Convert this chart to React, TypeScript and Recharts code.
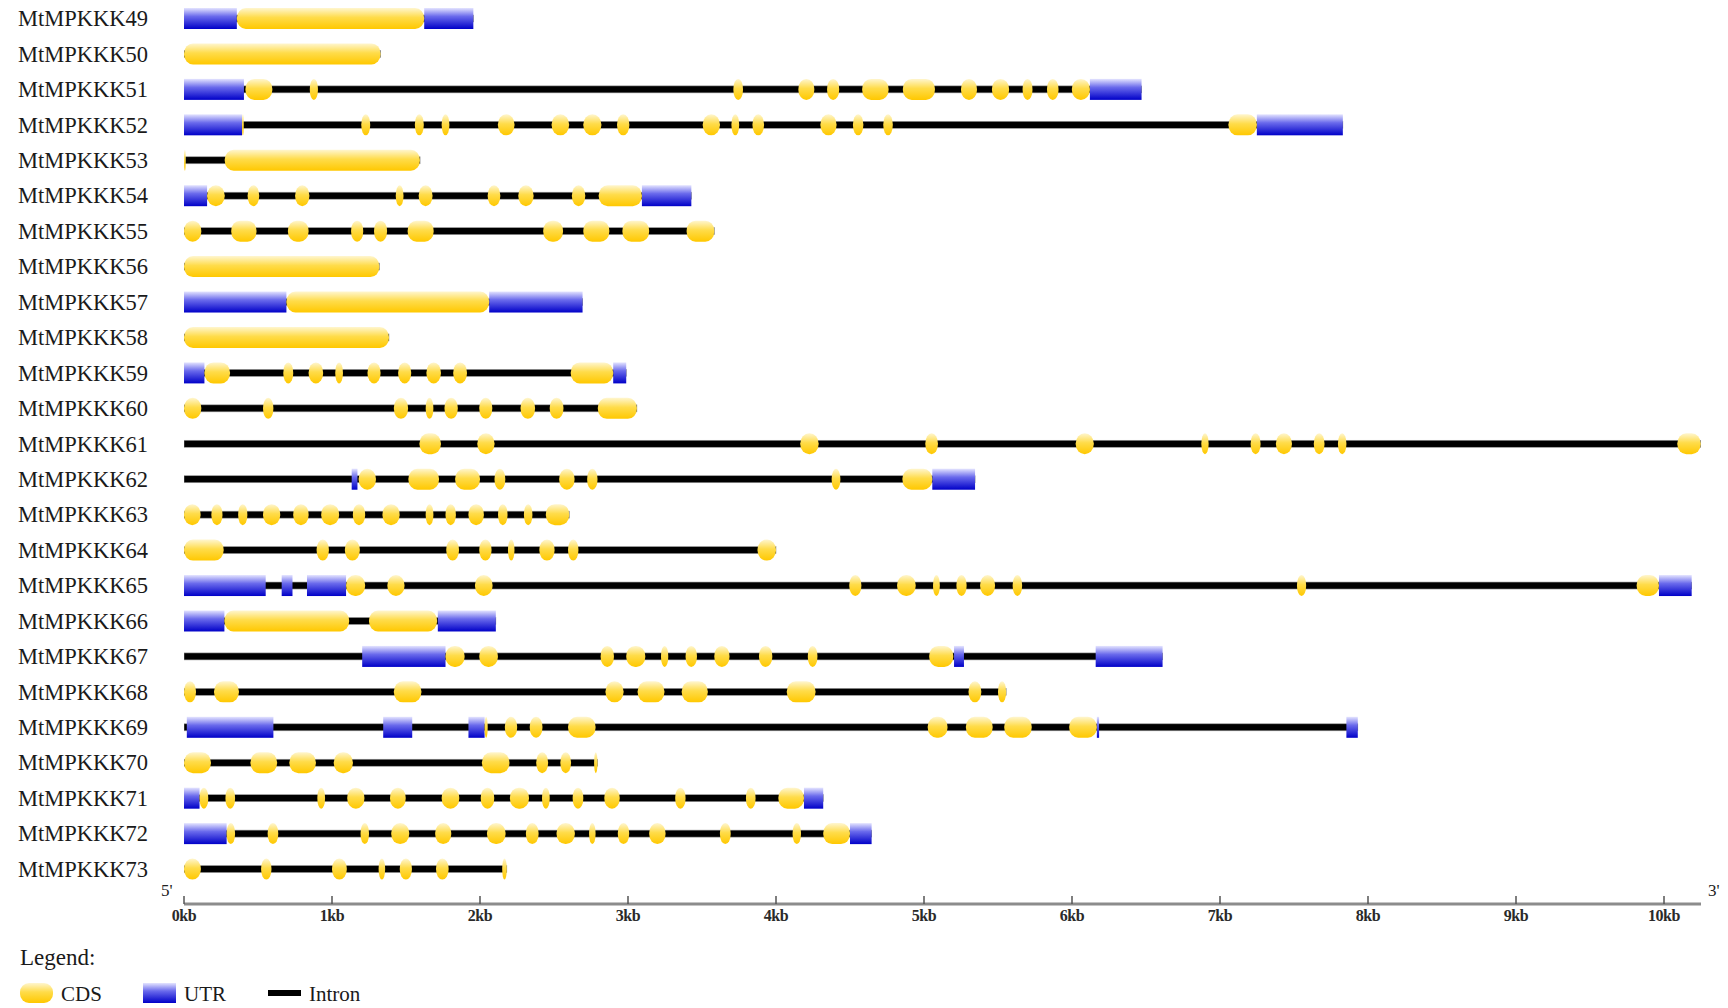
import React from 'react';
import { BarChart, Bar, XAxis, YAxis, Legend, Customized } from 'recharts';

const SERIF = '"Liberation Serif", "DejaVu Serif", serif';

// gene names, top to bottom
const genes = [
  'MtMPKKK49', 'MtMPKKK50', 'MtMPKKK51', 'MtMPKKK52', 'MtMPKKK53', 'MtMPKKK54', 'MtMPKKK55',
  'MtMPKKK56', 'MtMPKKK57', 'MtMPKKK58', 'MtMPKKK59', 'MtMPKKK60', 'MtMPKKK61', 'MtMPKKK62',
  'MtMPKKK63', 'MtMPKKK64', 'MtMPKKK65', 'MtMPKKK66', 'MtMPKKK67', 'MtMPKKK68', 'MtMPKKK69',
  'MtMPKKK70', 'MtMPKKK71', 'MtMPKKK72', 'MtMPKKK73',
];

// full gene length in kb (intron line runs from 0 to here)
const geneLength = [
  1.955, 1.328, 6.47, 7.83, 1.595, 3.428, 3.583, 1.32, 2.693, 1.385, 2.988, 3.06, 10.248,
  5.345, 2.603, 4.0, 10.187, 2.107, 6.612, 5.555, 7.931, 2.794, 4.319, 4.646, 2.181,
];

// UTR regions [start, end] in kb, per gene
const utrRegions: number[][][] = [
  [[0, 0.357], [1.623, 1.955]],
  [],
  [[0, 0.405], [6.121, 6.47]],
  [[0, 0.392], [7.249, 7.83]],
  [],
  [[0, 0.156], [3.094, 3.428]],
  [],
  [],
  [[0, 0.692], [2.062, 2.693]],
  [],
  [[0, 0.138], [2.9, 2.988]],
  [],
  [],
  [[1.133, 1.172], [5.056, 5.345]],
  [],
  [],
  [[0, 0.552], [0.66, 0.733], [0.831, 1.095], [9.966, 10.187]],
  [[0, 0.273], [1.715, 2.107]],
  [[1.204, 1.767], [5.203, 5.27], [6.16, 6.612]],
  [],
  [[0.019, 0.604], [1.346, 1.542], [1.922, 2.031], [6.168, 6.183], [7.854, 7.931]],
  [],
  [[0, 0.105], [4.189, 4.319]],
  [[0, 0.288], [4.5, 4.646]],
  [],
];

// CDS exons [start, end] in kb, per gene
const cdsExons: number[][][] = [
  [[0.357, 1.623]],
  [[0, 1.328]],
  [[0.415, 0.597], [0.85, 0.905], [3.712, 3.777], [4.151, 4.259], [4.345, 4.427], [4.582, 4.761],
    [4.857, 5.074], [5.25, 5.358], [5.459, 5.575], [5.666, 5.733], [5.831, 5.909], [5.999, 6.121]],
  [[0.392, 0.404], [1.198, 1.258], [1.56, 1.62], [1.741, 1.793], [2.121, 2.233], [2.484, 2.602],
    [2.698, 2.82], [2.926, 3.009], [3.505, 3.621], [3.699, 3.751], [3.841, 3.919], [4.3, 4.409],
    [4.52, 4.59], [4.725, 4.789], [7.057, 7.249]],
  [[0, 0.012], [0.275, 1.594]],
  [[0.156, 0.275], [0.43, 0.508], [0.751, 0.847], [1.431, 1.483], [1.586, 1.679], [2.052, 2.137],
    [2.259, 2.362], [2.621, 2.711], [2.802, 3.094]],
  [[0, 0.117], [0.319, 0.49], [0.702, 0.842], [1.129, 1.211], [1.284, 1.372], [1.511, 1.687],
    [2.427, 2.561], [2.698, 2.874], [2.962, 3.143], [3.396, 3.583]],
  [[0, 1.32]],
  [[0.692, 2.062]],
  [[0, 1.385]],
  [[0.138, 0.311], [0.671, 0.738], [0.842, 0.94], [1.022, 1.074], [1.24, 1.328], [1.447, 1.535],
    [1.638, 1.736], [1.819, 1.912], [2.613, 2.9]],
  [[0, 0.117], [0.534, 0.604], [1.418, 1.514], [1.633, 1.685], [1.76, 1.85], [1.995, 2.083],
    [2.274, 2.372], [2.471, 2.564], [2.796, 3.06]],
  [[1.591, 1.736], [1.982, 2.098], [4.164, 4.288], [5.009, 5.094], [6.025, 6.147], [6.874, 6.923],
    [7.207, 7.274], [7.378, 7.486], [7.634, 7.706], [7.797, 7.854], [10.09, 10.248]],
  [[1.18, 1.297], [1.516, 1.723], [1.832, 2.0], [2.098, 2.171], [2.535, 2.639], [2.724, 2.794],
    [4.376, 4.435], [4.854, 5.056]],
  [[0, 0.112], [0.185, 0.26], [0.366, 0.428], [0.534, 0.65], [0.738, 0.842], [0.927, 1.048],
    [1.141, 1.224], [1.341, 1.457], [1.633, 1.685], [1.767, 1.837], [1.922, 2.026], [2.122, 2.186],
    [2.297, 2.354], [2.445, 2.603]],
  [[0, 0.268], [0.896, 0.979], [1.087, 1.188], [1.772, 1.858], [1.995, 2.078], [2.189, 2.233],
    [2.401, 2.504], [2.595, 2.665], [3.875, 4.0]],
  [[1.095, 1.224], [1.374, 1.49], [1.966, 2.085], [4.495, 4.577], [4.818, 4.944], [5.061, 5.107],
    [5.219, 5.288], [5.379, 5.48], [5.599, 5.663], [7.52, 7.582], [9.815, 9.966]],
  [[0.273, 1.116], [1.25, 1.71]],
  [[1.767, 1.896], [1.995, 2.121], [2.815, 2.905], [2.988, 3.117], [3.223, 3.272], [3.389, 3.466],
    [3.583, 3.686], [3.885, 3.975], [4.215, 4.28], [5.035, 5.198]],
  [[0, 0.081], [0.203, 0.371], [1.418, 1.604], [2.848, 2.97], [3.065, 3.246], [3.363, 3.539],
    [4.073, 4.267], [5.301, 5.387], [5.5, 5.555]],
  [[2.031, 2.052], [2.168, 2.251], [2.336, 2.422], [2.595, 2.781], [5.025, 5.159], [5.283, 5.464],
    [5.542, 5.728], [5.981, 6.168]],
  [[0, 0.182], [0.449, 0.629], [0.712, 0.891], [1.012, 1.141], [2.013, 2.199], [2.38, 2.46],
    [2.543, 2.615], [2.771, 2.794]],
  [[0.105, 0.164], [0.28, 0.345], [0.901, 0.953], [1.103, 1.219], [1.392, 1.498], [1.741, 1.86],
    [2.005, 2.096], [2.202, 2.331], [2.419, 2.471], [2.626, 2.698], [2.84, 2.944], [3.319, 3.389],
    [3.797, 3.862], [4.016, 4.189]],
  [[0.288, 0.345], [0.565, 0.637], [1.193, 1.25], [1.4, 1.522], [1.697, 1.806], [2.047, 2.173],
    [2.31, 2.396], [2.517, 2.641], [2.737, 2.781], [2.931, 3.008], [3.143, 3.254], [3.621, 3.694],
    [4.112, 4.169], [4.319, 4.5]],
  [[0, 0.114], [0.521, 0.591], [1.0, 1.1], [1.315, 1.359], [1.458, 1.54], [1.703, 1.788], [2.15, 2.181]],
];

const kbTicks = [0, 1, 2, 3, 4, 5, 6, 7, 8, 9, 10];
const legendItems = ['CDS', 'UTR', 'Intron'];

const maxUtr = Math.max(...utrRegions.map((u) => u.length));
const maxCds = Math.max(...cdsExons.map((c) => c.length));

const rows = genes.map((name, i) => {
  const row: Record<string, any> = { name, intron: [0, geneLength[i]] };
  utrRegions[i].forEach((r, j) => { row[`utr${j}`] = r; });
  cdsExons[i].forEach((r, j) => { row[`cds${j}`] = r; });
  return row;
});

const ok = (w: any) => Number.isFinite(w) && w > 0;

function IntronShape(props: any) {
  const { x, y, width, height } = props;
  if (!ok(width)) return null;
  return <rect x={x} y={y + height / 2 - 3.5} width={width} height={7} fill="#000" stroke="#999" strokeWidth={0.6} />;
}

function UtrShape(props: any) {
  const { x, y, width, height } = props;
  if (!ok(width)) return null;
  return <rect x={x} y={y} width={width} height={height} fill="url(#utrFill)" />;
}

function CdsShape(props: any) {
  const { x, y, width, height } = props;
  if (!ok(width)) return null;
  return (
    <rect x={x} y={y} width={width} height={height}
      rx={Math.min(width / 2, 9)} ry={Math.min(height / 2, 10)} fill="url(#cdsFill)" />
  );
}

function GeneTick(props: any) {
  const { y, payload } = props;
  return (
    <text x={18} y={y + 7.5} fontFamily={SERIF} fontSize={22.5} fill="#1a1a1a">{payload.value}</text>
  );
}

function KbTick(props: any) {
  const { x, y, payload } = props;
  return (
    <g>
      <line x1={x} x2={x} y1={y} y2={y - 8} stroke="#555" strokeWidth={1.5} />
      <text x={x} y={y + 17} textAnchor="middle" fontFamily={SERIF} fontWeight="bold"
        fontSize={16} letterSpacing={-0.4} fill="#2a2a2a">{`${payload.value}kb`}</text>
    </g>
  );
}

function EndLabels() {
  return (
    <g fontFamily={SERIF} fontSize={17} fill="#222">
      <text x={161} y={896}>5'</text>
      <text x={1708} y={896}>3'</text>
    </g>
  );
}

function LegendBox() {
  const xs = [20, 143, 268];
  return (
    <svg width={420} height={73} style={{ display: 'block' }}>
      <text x={20} y={30} fontFamily={SERIF} fontSize={23} fill="#1a1a1a">Legend:</text>
      {legendItems.map((label, i) => (
        <g key={label}>
          {label === 'CDS' && <rect x={xs[i]} y={48} width={33} height={20} rx={9} ry={9} fill="url(#cdsFill)" />}
          {label === 'UTR' && <rect x={xs[i]} y={48} width={33} height={20} fill="url(#utrFill)" />}
          {label === 'Intron' && <rect x={xs[i]} y={55} width={33} height={6} fill="#000" />}
          <text x={xs[i] + 41} y={66} fontFamily={SERIF} fontSize={21} fill="#1a1a1a">{label}</text>
        </g>
      ))}
    </svg>
  );
}

export default function App() {
  return (
    <div style={{ position: 'absolute', left: 0, top: 0, width: 1728, height: 1008, background: '#fff' }}>
      <BarChart
        width={1728}
        height={1008}
        data={rows}
        layout="vertical"
        barSize={21}
        barGap={-21}
        margin={{ top: 1, right: 27, bottom: 74, left: 0 }}
      >
        <defs>
          <linearGradient id="cdsFill" x1="0" y1="0" x2="0" y2="1">
            <stop offset="0%" stopColor="#fff6cf" />
            <stop offset="45%" stopColor="#ffdc4a" />
            <stop offset="100%" stopColor="#ffc800" />
          </linearGradient>
          <linearGradient id="utrFill" x1="0" y1="0" x2="0" y2="1">
            <stop offset="0%" stopColor="#e4e4ff" />
            <stop offset="40%" stopColor="#6a6aec" />
            <stop offset="100%" stopColor="#0000c8" />
          </linearGradient>
        </defs>
        <XAxis
          type="number"
          domain={[0, 10.25]}
          allowDataOverflow
          ticks={kbTicks}
          interval={0}
          height={30}
          tickSize={0}
          tickMargin={0}
          tickLine={false}
          axisLine={{ stroke: '#8c8c8c', strokeWidth: 3 }}
          tick={(p: any) => <KbTick {...p} />}
        />
        <YAxis
          type="category"
          dataKey="name"
          width={184}
          padding={{ top: 0, bottom: 17 }}
          axisLine={false}
          tickLine={false}
          interval={0}
          tick={(p: any) => <GeneTick {...p} />}
        />
        <Bar dataKey="intron" isAnimationActive={false} shape={(p: any) => <IntronShape {...p} />} />
        {Array.from({ length: maxUtr }, (_, j) => (
          <Bar key={`utr${j}`} dataKey={`utr${j}`} isAnimationActive={false} shape={(p: any) => <UtrShape {...p} />} />
        ))}
        {Array.from({ length: maxCds }, (_, j) => (
          <Bar key={`cds${j}`} dataKey={`cds${j}`} isAnimationActive={false} shape={(p: any) => <CdsShape {...p} />} />
        ))}
        <Customized component={<EndLabels />} />
        <Legend
          layout="horizontal"
          align="center"
          verticalAlign="middle"
          content={() => <LegendBox />}
          wrapperStyle={{ position: 'absolute', left: 0, top: 935, width: 420, height: 73 }}
        />
      </BarChart>
    </div>
  );
}
